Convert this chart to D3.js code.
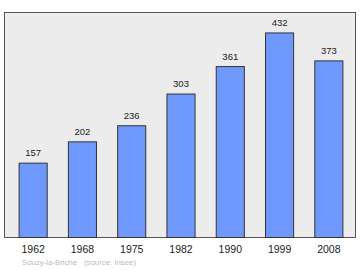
<!DOCTYPE html>
<html lang="en">
<head>
<meta charset="UTF-8">
<title>Souzy-la-Briche</title>
<script src="https://d3js.org/d3.v7.min.js"></script>
<style>
    body { margin: 0; background: #fff; }
    svg text { font-family: "Liberation Sans", Arial, sans-serif; }
</style>
</head>
<body>
<script>
    var years = ["1962", "1968", "1975", "1982", "1990", "1999", "2008"];
    var population = [157, 202, 236, 303, 361, 432, 373];
    var commune = "Souzy-la-Briche";
    var source = "(source: Insee)";

    var width = 360, height = 270;
    var frame = { left: 4.5, top: 12.5, right: 355.5, bottom: 237.5 };

    var svg = d3.select("body").append("svg")
        .attr("width", width)
        .attr("height", height);

    svg.append("rect")
        .attr("x", frame.left)
        .attr("y", frame.top)
        .attr("width", frame.right - frame.left)
        .attr("height", frame.bottom - frame.top)
        .attr("fill", "#ececec")
        .attr("stroke", "#555")
        .attr("stroke-width", 1);

    var x = d3.scaleBand()
        .domain(years)
        .range([8.5, 353.5])
        .paddingInner(0.43)
        .paddingOuter(0.215);

    var y = d3.scaleLinear()
        .domain([0, d3.max(population) * 1.1])
        .range([frame.bottom, frame.top]);

    var bar = svg.selectAll("g.bar")
        .data(population)
        .enter()
        .append("g")
        .attr("class", "bar");

    bar.append("rect")
        .attr("x", function (d, i) { return x(years[i]); })
        .attr("y", function (d) { return y(d); })
        .attr("width", x.bandwidth())
        .attr("height", function (d) { return frame.bottom - y(d); })
        .attr("fill", "#7099fd")
        .attr("stroke", "#333")
        .attr("stroke-width", 1);

    bar.append("text")
        .attr("x", function (d, i) { return x(years[i]) + x.bandwidth() / 2; })
        .attr("y", function (d) { return y(d) - 7; })
        .attr("text-anchor", "middle")
        .attr("font-size", 9.5)
        .attr("fill", "#222")
        .text(function (d) { return d; });

    // year labels under the frame
    var xAxis = svg.append("g")
        .attr("transform", "translate(0," + frame.bottom + ")")
        .call(d3.axisBottom(x).tickSize(0));
    xAxis.select(".domain").remove();
    xAxis.selectAll("text")
        .attr("y", 15.5)
        .attr("dy", null)
        .attr("font-size", 10.5)
        .attr("fill", "#222")
        .style("font-family", "'Liberation Sans', Arial, sans-serif");

    svg.append("text")
        .attr("x", 22)
        .attr("y", 264.5)
        .attr("font-size", 7.8)
        .attr("fill", "#bbb")
        .text(commune);

    svg.append("text")
        .attr("x", 84)
        .attr("y", 264.5)
        .attr("font-size", 7.8)
        .attr("fill", "#bbb")
        .text(source);
</script>
</body>
</html>
